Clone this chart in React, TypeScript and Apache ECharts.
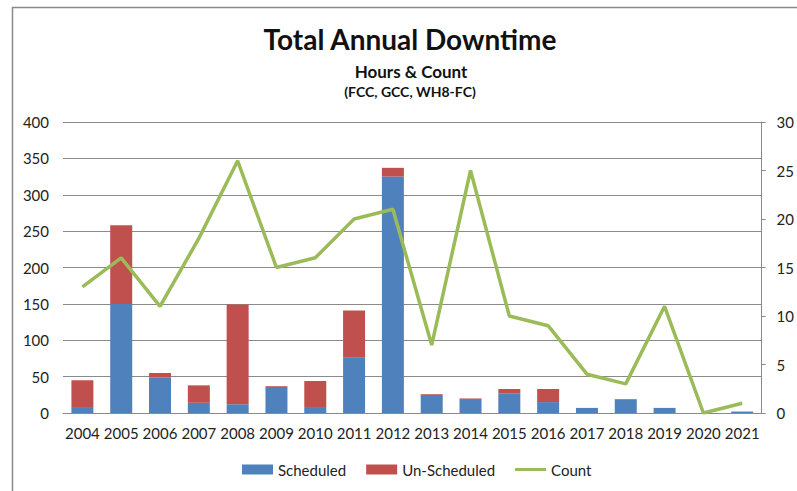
import React, { useEffect, useRef } from "react";
import * as echarts from "echarts";

const years = ["2004","2005","2006","2007","2008","2009","2010","2011","2012","2013","2014","2015","2016","2017","2018","2019","2020","2021"];
const scheduled = [7, 150, 49, 14, 12, 36, 7, 76, 325, 25, 18, 27, 15, 7, 19, 7, 0, 2];
const unscheduled = [38, 108, 6, 24, 137, 1, 37, 65, 12, 1, 2, 6, 18, 0, 0, 0, 0, 0];
const counts = [13, 16, 11, 18, 26, 15, 16, 20, 21, 7, 25, 10, 9, 4, 3, 11, 0, 1];
const leftTicks = { min: 0, max: 400, interval: 50 };
const rightTicks = { min: 0, max: 30, interval: 5 };

const FONT = "Lato, 'Open Sans', sans-serif";

export default function App() {
  const ref = useRef<HTMLDivElement>(null);
  useEffect(() => {
    document.body.style.margin = "0";
    const chart = echarts.init(ref.current!, null, { renderer: "svg" });
    chart.setOption({
      animation: false,
      backgroundColor: "#ffffff",
      textStyle: { fontFamily: FONT },
      graphic: [
        { type: "rect", shape: { x: 12.5, y: 7.5, width: 820, height: 520 }, style: { fill: "none", stroke: "#8a8a8a", lineWidth: 1.5 }, silent: true },
        { type: "text", x: 410, y: 39, style: { text: "Total Annual Downtime", fontFamily: FONT, fontWeight: "bold", fontSize: 28, fill: "#111", align: "center", verticalAlign: "middle" } },
        { type: "text", x: 411, y: 71, style: { text: "Hours & Count", fontFamily: FONT, fontWeight: "bold", fontSize: 17, fill: "#111", align: "center", verticalAlign: "middle" } },
        { type: "text", x: 410, y: 91, style: { text: "(FCC, GCC, WH8-FC)", fontFamily: FONT, fontWeight: "bold", fontSize: 14, fill: "#111", align: "center", verticalAlign: "middle" } },
      ],
      grid: { left: 63, right: 30, top: 122, bottom: 78, containLabel: false },
      legend: {
        bottom: 9,
        left: 237,
        itemWidth: 31,
        itemHeight: 10,
        itemGap: 20,
        textStyle: { fontFamily: FONT, fontSize: 15, color: "#222" },
        data: [
          { name: "Scheduled", icon: "rect" },
          { name: "Un-Scheduled", icon: "rect" },
          { name: "Count", icon: "path://M0,3.5 L31,3.5 L31,6.5 L0,6.5 Z", itemStyle: { color: "#9BBB59" } },
        ],
      },
      xAxis: {
        type: "category",
        data: years,
        axisLine: { lineStyle: { color: "#8a8a8a", width: 1 } },
        axisTick: { show: false },
        axisLabel: { fontFamily: FONT, fontSize: 15, color: "#222", margin: 12, interval: 0 },
      },
      yAxis: [
        {
          type: "value",
          ...leftTicks,
          axisLine: { show: false },
          axisTick: { show: false },
          splitLine: { lineStyle: { color: "#8a8a8a", width: 1 } },
          axisLabel: { fontFamily: FONT, fontSize: 15, color: "#222", margin: 14 },
        },
        {
          type: "value",
          ...rightTicks,
          position: "right",
          axisLine: { show: true, lineStyle: { color: "#8a8a8a", width: 1 } },
          axisTick: { show: true, length: 4, lineStyle: { color: "#8a8a8a" } },
          splitLine: { show: false },
          axisLabel: { fontFamily: FONT, fontSize: 15, color: "#222", margin: 15 },
        },
      ],
      series: [
        { name: "Scheduled", type: "bar", stack: "hours", data: scheduled, barWidth: 22, itemStyle: { color: "#4F81BD" } },
        { name: "Un-Scheduled", type: "bar", stack: "hours", data: unscheduled, barWidth: 22, itemStyle: { color: "#C0504D" } },
        { name: "Count", type: "line", yAxisIndex: 1, data: counts, symbol: "none", lineStyle: { color: "#9BBB59", width: 3.5 }, itemStyle: { color: "#9BBB59" } },
      ],
    });
    return () => chart.dispose();
  }, []);
  return <div ref={ref} style={{ width: 797, height: 491 }} />;
}
